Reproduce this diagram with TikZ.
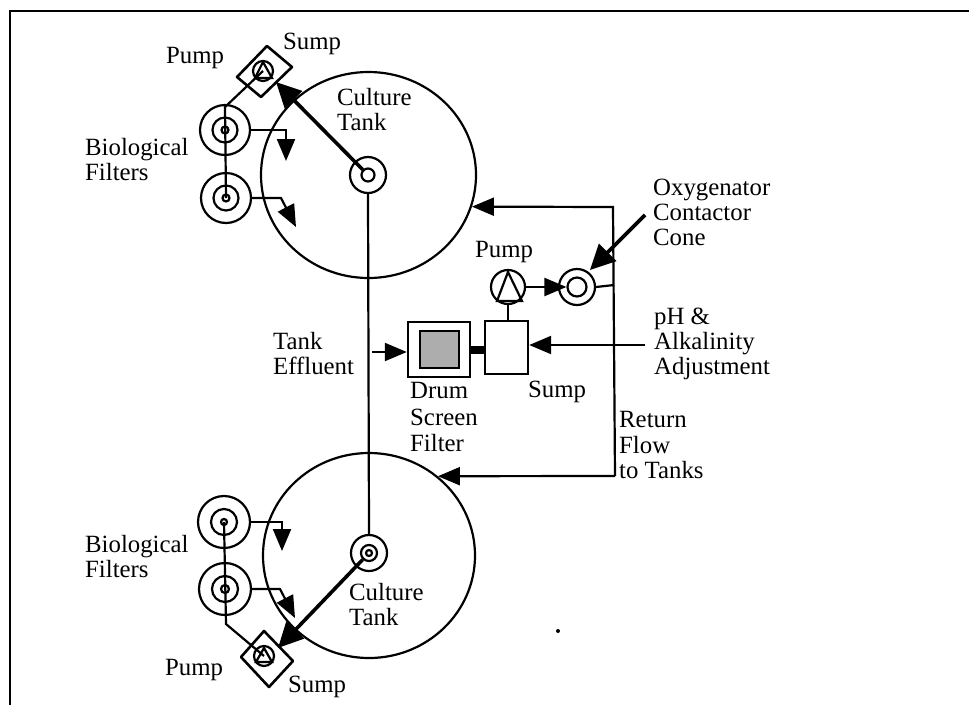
\documentclass[tikz,border=0pt]{standalone}
\usepackage{fontspec}
\setmainfont{Liberation Serif}
\usetikzlibrary{arrows.meta,shapes.geometric}
\begin{document}
\begin{tikzpicture}[x=1pt,y=-1pt,font=\fontsize{24.8}{25}\selectfont,
  tank/.style={draw,ellipse,line width=2.2pt,inner sep=0pt},
  ring/.style={draw,circle,line width=2.2pt,inner sep=0pt},
  lbl/.style={align=left,inner sep=0pt,anchor=north west},
  boxx/.style={draw,line width=2.4pt,inner sep=0pt},
  pipe/.style={line width=2.2pt},
  f/.style={-{Triangle[length=22pt,width=18pt]},line width=2.2pt},
  tf/.style={-{Triangle[length=25pt,width=24pt]},line width=3.6pt}]
\useasboundingbox (0,0) rectangle (969,705);
\draw[line width=2.6pt] (10,705)--(10,11)--(969,11);

% tanks
\node[tank,minimum width=215pt,minimum height=206pt](tank1) at (368.5,175){};
\node[tank,minimum width=212pt,minimum height=205pt](tank2) at (369,555.5){};
\node[ring,minimum size=36pt](out1) at (368,175){};
\node[ring,minimum size=13pt](out1i) at (368,175){};
\node[ring,minimum size=36pt](out2) at (369,553){};
\node[ring,minimum size=16pt](out2i) at (369,553){};
\node[ring,minimum size=6pt](out2c) at (369,553){};

% filters, top
\node[ring,minimum size=50pt](fa) at (225,130){};
\node[ring,minimum size=25pt](fam) at (225,130){};
\node[ring,minimum size=7pt](fac) at (225,130){};
\node[ring,minimum size=50pt](fb) at (226,198){};
\node[ring,minimum size=25pt](fbm) at (226,198){};
\node[ring,minimum size=7pt](fbc) at (226,198){};
% filters, bottom
\node[ring,minimum size=52pt](fc) at (224,522){};
\node[ring,minimum size=26pt](fcm) at (224,522){};
\node[ring,minimum size=6pt](fcc) at (224,522){};
\node[ring,minimum size=52pt](fd) at (225,589){};
\node[ring,minimum size=26pt](fdm) at (225,589){};
\node[ring,minimum size=8pt](fdc) at (225,589){};

% sumps and pumps
\coordinate (s1a) at (267,46); \coordinate (s1b) at (292,67);
\coordinate (s1c) at (261,97); \coordinate (s1d) at (237,77);
\draw[line width=2.6pt,line join=round] (s1a)--(s1b)--(s1c)--(s1d)--cycle;
\coordinate (s2a) at (264,631); \coordinate (s2b) at (293,661);
\coordinate (s2c) at (269,687); \coordinate (s2d) at (241,657);
\draw[line width=2.6pt,line join=round] (s2a)--(s2b)--(s2c)--(s2d)--cycle;
\node[ring,minimum size=20pt](p1) at (263,71){};
\draw[pipe] (263,62)--(255,78)--(272,78)--cycle;
\node[ring,minimum size=20pt](p2) at (264,656){};
\draw[pipe] (264,648)--(256,662)--(272,662)--cycle;
\node[ring,minimum size=34pt](p3) at (508,287){};
\draw[pipe] (508,272)--(497,301)--(522,301)--cycle;

% piping
\coordinate (j1) at (225,107); \coordinate (j2) at (226,624);
\draw[pipe] (p1.center)--(j1)--(fb.center);
\draw[pipe] (fc.center)--(j2)--(p2.center);
\draw[pipe] (out1.south)--(out2.north);
\draw[tf] (out1i)--(276,82);
\draw[tf] (out2i)--(278,648);
\draw[f] (fa.east)-|(286,161);
\draw[f] (fb.east)--(281,198)--(296,227);
\draw[f] (fc.east)-|(282,551);
\draw[f] (fd.east)--(280,589)--(295,618);

% treatment loop
\node[boxx,minimum width=62pt,minimum height=55pt](drum) at (439,349.5){};
\node[boxx,fill=black!32,minimum width=39pt,minimum height=37pt](scr) at (439.5,349.5){};
\node[boxx,minimum width=43pt,minimum height=53pt](sump) at (506.5,347.5){};
\node[ring,minimum size=36pt](cone) at (577,287){};
\node[ring,minimum size=19pt](conei) at (577,287){};
\draw[line width=8pt] (drum.east)--(drum.east-|sump.west);
\draw[pipe] (p3.south)--(sump.north-|p3.south);
\draw[f] (p3.east)--(conei.west);
\coordinate (rtop) at (613,207); \coordinate (rbot) at (615,476);
\draw[pipe] (cone.east)--(614,285);
\draw[f] (rbot)--(rtop)--(tank1.-17.4);
\draw[f] (rbot)--(tank2.49.4);
\coordinate (eff) at (371.5,352);
\draw[f] (eff)--(drum.west|-eff);
\coordinate (ph) at (645,345);
\draw[f] (ph)--(sump.east|-ph);
\coordinate (oxy) at (645,215);
\draw[tf] (oxy)--(590,270);
\fill (558,631) circle (2pt);

% labels
\node[lbl](t1) at (166,47.5){Pump};
\node[lbl](t2) at (283,32.5){Sump};
\node[lbl](t3) at (337,88){Culture\\Tank};
\node[lbl](t4) at (85,138.5){Biological\\Filters};
\node[lbl](t5) at (273,332.5){Tank\\Effluent};
\node[lbl](t6) at (410,382.5){Drum\\[2pt]Screen\\[1pt]Filter};
\node[lbl](t7) at (475,241.5){Pump};
\node[lbl](t8) at (528,380.5){Sump};
\node[lbl](t9) at (653,178.5){Oxygenator\\Contactor\\Cone};
\node[lbl](t10) at (654,307.5){pH \&\\Alkalinity\\Adjustment};
\node[lbl](t11) at (619,411.5){Return\\[1pt]Flow\\to Tanks};
\node[lbl](t12) at (85,535.5){Biological\\Filters};
\node[lbl](t13) at (349,583.5){Culture\\Tank};
\node[lbl](t14) at (165,659.5){Pump};
\node[lbl](t15) at (288,675.5){Sump};
\end{tikzpicture}
\end{document}
